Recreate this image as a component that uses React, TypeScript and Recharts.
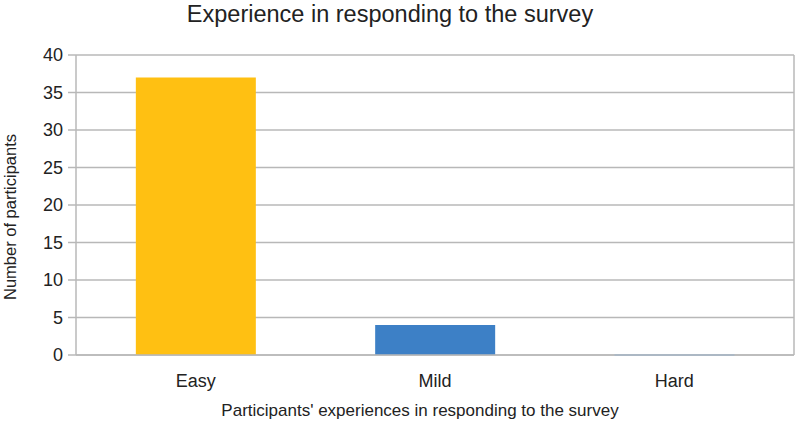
import React from "react";
import {
  BarChart,
  Bar,
  CartesianGrid,
  XAxis,
  YAxis,
  Cell,
  Label
} from "recharts";

const categories = ["Easy", "Mild", "Hard"];
const participants = [37, 4, 0];
const barColors = ["#ffc012", "#3d80c6", "#86b7e8"];
const yTicks = [0, 5, 10, 15, 20, 25, 30, 35, 40];

const chartData = categories.map((name, i) => ({
  name,
  participants: participants[i]
}));

const FONT = "'Liberation Sans', Arial, sans-serif";
const TEXT = "#222";

// zero-valued bars still get a hairline, like the spreadsheet renderer does
const BarShape = (props: any) => {
  const { x, y, width, height, fill } = props;
  if (!height) {
    return <rect x={x} y={y - 1} width={width} height={2} fill={fill} />;
  }
  return <rect x={x} y={y} width={width} height={height} fill={fill} />;
};

export default function App() {
  return (
    <div
      style={{
        position: "absolute",
        left: 0,
        top: 0,
        width: 800,
        height: 424,
        background: "#fff",
        fontFamily: FONT
      }}
    >
      <div
        style={{
          position: "absolute",
          top: 0,
          left: -20,
          width: 820,
          textAlign: "center",
          fontSize: 23.5,
          color: TEXT,
          lineHeight: "28px"
        }}
      >
        Experience in responding to the survey
      </div>
      <BarChart
        width={800}
        height={424}
        data={chartData}
        margin={{ top: 55, right: 3, left: 0, bottom: 0 }}
        barCategoryGap="25%"
      >
        <CartesianGrid vertical={false} stroke="#b8b8b8" strokeWidth={1.5} />
        <XAxis
          dataKey="name"
          height={69}
          tickLine={false}
          axisLine={{ stroke: "#b8b8b8", strokeWidth: 1.5 }}
          tick={{ fill: TEXT, fontSize: 18, fontFamily: FONT }}
          tickMargin={13}
        >
          <Label
            content={() => (
              <text
                x={420}
                y={416}
                textAnchor="middle"
                fill={TEXT}
                fontSize={17}
                fontFamily={FONT}
              >
                Participants' experiences in responding to the survey
              </text>
            )}
          />
        </XAxis>
        <YAxis
          domain={[0, 40]}
          ticks={yTicks}
          width={76}
          tickSize={8}
          tickMargin={5}
          tickLine={{ stroke: "#b8b8b8", strokeWidth: 1.5 }}
          axisLine={{ stroke: "#b8b8b8", strokeWidth: 1.5 }}
          tick={{ fill: TEXT, fontSize: 18, fontFamily: FONT }}
        >
          <Label
            content={() => (
              <text
                transform="translate(16,217) rotate(-90)"
                textAnchor="middle"
                fill={TEXT}
                fontSize={16.5}
                fontFamily={FONT}
              >
                Number of participants
              </text>
            )}
          />
        </YAxis>
        <YAxis
          yAxisId="right"
          orientation="right"
          width={3}
          tick={false}
          tickLine={false}
          axisLine={{ stroke: "#b8b8b8", strokeWidth: 1.5 }}
          domain={[0, 40]}
        />
        <Bar
          dataKey="participants"
          isAnimationActive={false}
          shape={BarShape}
        >
          {chartData.map((d, i) => (
            <Cell key={d.name} fill={barColors[i]} />
          ))}
        </Bar>
      </BarChart>
    </div>
  );
}
